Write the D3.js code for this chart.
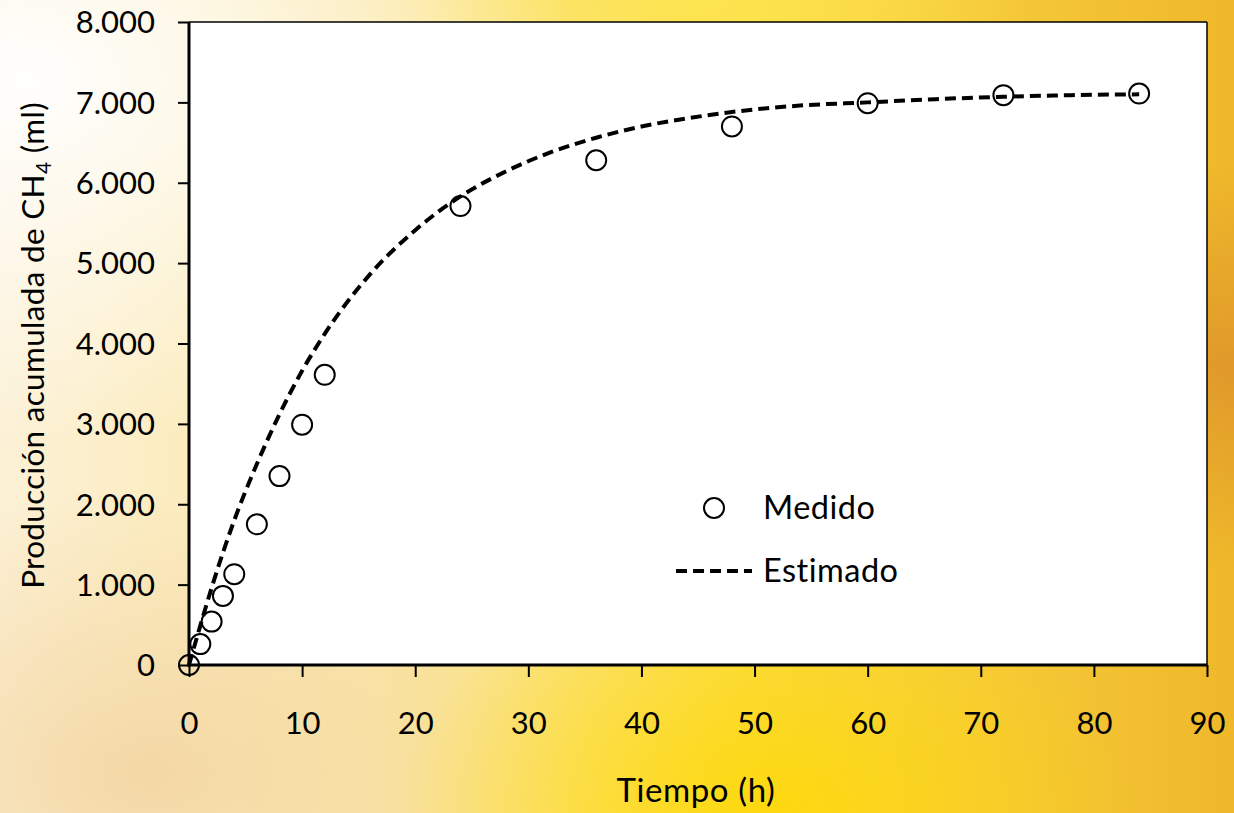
<!DOCTYPE html>
<html>
<head>
<meta charset="utf-8">
<script src="https://cdn.jsdelivr.net/npm/d3@7"></script>
<style>
  html, body { margin: 0; padding: 0; overflow: hidden; }
  svg { display: block; font-family: Lato, "Open Sans", sans-serif; }
</style>
</head>
<body>
<svg id="chart" width="1234" height="813"></svg>
<script>
// ======== DATA ========
const measuredHours = [0, 1, 2, 3, 4, 6, 8, 10, 12, 24, 36, 48, 60, 72, 84];
const measuredMl = [0, 260, 540, 860, 1130, 1750, 2350, 2990, 3610, 5710, 6280, 6700, 6990, 7090, 7110];

const estimatedHours = [0, 1, 2, 4, 6, 8, 10, 12, 16, 20, 24, 28, 32, 36, 40, 44, 48, 54, 60, 66, 72, 78, 84];
const estimatedMl = [0, 490, 960, 1800, 2500, 3120, 3660, 4120, 4860, 5410, 5830, 6140, 6380, 6560, 6700, 6800, 6880, 6960, 7000, 7040, 7070, 7090, 7100];

const xTicks = [0, 10, 20, 30, 40, 50, 60, 70, 80, 90];
const yTicks = [0, 1000, 2000, 3000, 4000, 5000, 6000, 7000, 8000];

const legendLabels = ['Medido', 'Estimado'];

// ======== SETUP ========
const W = 1234, H = 813;
const plot = { left: 189, right: 1207, top: 22, bottom: 665 };

const svg = d3.select('#chart');
const defs = svg.append('defs');

// background: warm yellow/orange wash with a pale glow on the left
const base = defs.append('linearGradient').attr('id', 'bgBase')
    .attr('x1', 0).attr('y1', 0).attr('x2', 1).attr('y2', 0);
base.append('stop').attr('offset', '0%').attr('stop-color', '#fcf1d6');
base.append('stop').attr('offset', '30%').attr('stop-color', '#fbe8a8');
base.append('stop').attr('offset', '60%').attr('stop-color', '#fcdc48');
base.append('stop').attr('offset', '100%').attr('stop-color', '#efb82a');

const glow = defs.append('radialGradient').attr('id', 'bgGlow')
    .attr('cx', 0.02).attr('cy', 0.1).attr('r', 0.45);
glow.append('stop').attr('offset', '0%').attr('stop-color', '#ffffff').attr('stop-opacity', 0.95);
glow.append('stop').attr('offset', '100%').attr('stop-color', '#ffffff').attr('stop-opacity', 0);

const bottomLeft = defs.append('radialGradient').attr('id', 'bgPeach')
    .attr('cx', 0.12).attr('cy', 0.95).attr('r', 0.35);
bottomLeft.append('stop').attr('offset', '0%').attr('stop-color', '#f2d39e').attr('stop-opacity', 0.8);
bottomLeft.append('stop').attr('offset', '100%').attr('stop-color', '#f2d39e').attr('stop-opacity', 0);

const rightOrange = defs.append('radialGradient').attr('id', 'bgOrange')
    .attr('cx', 1.0).attr('cy', 0.45).attr('r', 0.25);
rightOrange.append('stop').attr('offset', '0%').attr('stop-color', '#de952a').attr('stop-opacity', 0.9);
rightOrange.append('stop').attr('offset', '100%').attr('stop-color', '#de952a').attr('stop-opacity', 0);

const bottomYellow = defs.append('radialGradient').attr('id', 'bgYellow')
    .attr('cx', 0.62).attr('cy', 1.0).attr('r', 0.3);
bottomYellow.append('stop').attr('offset', '0%').attr('stop-color', '#fdd800').attr('stop-opacity', 0.8);
bottomYellow.append('stop').attr('offset', '100%').attr('stop-color', '#fdd800').attr('stop-opacity', 0);

const topYellow = defs.append('radialGradient').attr('id', 'bgTop')
    .attr('cx', 0.58).attr('cy', 0.0).attr('r', 0.25);
topYellow.append('stop').attr('offset', '0%').attr('stop-color', '#fde650').attr('stop-opacity', 0.8);
topYellow.append('stop').attr('offset', '100%').attr('stop-color', '#fde650').attr('stop-opacity', 0);

['bgBase', 'bgPeach', 'bgYellow', 'bgTop', 'bgOrange', 'bgGlow'].forEach(id => {
    svg.append('rect').attr('width', W).attr('height', H).attr('fill', `url(#${id})`);
});

// plot area
svg.append('rect')
    .attr('x', plot.left).attr('y', plot.top)
    .attr('width', plot.right - plot.left).attr('height', plot.bottom - plot.top)
    .attr('fill', '#ffffff');

const x = d3.scaleLinear().domain([0, 90]).range([plot.left, plot.right]);
const y = d3.scaleLinear().domain([0, 8000]).range([plot.bottom, plot.top]);

const fmt = d3.formatLocale({ decimal: ',', thousands: '.', grouping: [3], currency: ['', ''] }).format(',');

// ======== AXES ========
const xAxis = svg.append('g')
    .attr('transform', `translate(0,${plot.bottom})`)
    .call(d3.axisBottom(x).tickValues(xTicks).tickSize(12).tickPadding(32).tickSizeOuter(0));
const yAxis = svg.append('g')
    .attr('transform', `translate(${plot.left},0)`)
    .call(d3.axisLeft(y).tickValues(yTicks).tickFormat(fmt).tickSize(11).tickPadding(23).tickSizeOuter(0));

[xAxis, yAxis].forEach(a => {
    a.select('.domain').remove();
    a.selectAll('.tick line').attr('stroke', '#000').attr('stroke-width', 2);
    a.selectAll('.tick text').attr('fill', '#000').attr('font-size', 31).attr('font-family', 'Lato, sans-serif');
});
xAxis.selectAll('.tick text').attr('dy', '0.35em').attr('y', 58);
yAxis.selectAll('.tick text').attr('dy', '0.35em');

// frame: thin top/right, thick left/bottom
svg.append('line').attr('x1', plot.left).attr('x2', plot.right).attr('y1', plot.top).attr('y2', plot.top)
    .attr('stroke', '#000').attr('stroke-width', 1.5);
svg.append('line').attr('x1', plot.right).attr('x2', plot.right).attr('y1', plot.top).attr('y2', plot.bottom)
    .attr('stroke', '#000').attr('stroke-width', 1.5);
svg.append('line').attr('x1', plot.left).attr('x2', plot.left).attr('y1', plot.top).attr('y2', plot.bottom + 1.5)
    .attr('stroke', '#000').attr('stroke-width', 3);
svg.append('line').attr('x1', plot.left - 1.5).attr('x2', plot.right).attr('y1', plot.bottom).attr('y2', plot.bottom)
    .attr('stroke', '#000').attr('stroke-width', 3);

// axis titles
svg.append('text')
    .attr('x', 696).attr('y', 802)
    .attr('text-anchor', 'middle')
    .attr('font-size', 33)
    .attr('letter-spacing', 0.6)
    .text('Tiempo (h)');

const yTitle = svg.append('text')
    .attr('transform', `translate(44,${(plot.top + plot.bottom) / 2 + 2}) rotate(-90)`)
    .attr('text-anchor', 'middle')
    .attr('font-size', 31.5)
    .attr('letter-spacing', 0.3);
yTitle.append('tspan').text('Producción acumulada de CH');
yTitle.append('tspan').attr('font-size', 21).attr('dy', 7).text('4');
yTitle.append('tspan').attr('dy', -7).text(' (ml)');

// ======== SERIES ========
const measured = measuredHours.map((h, i) => ({ h, v: measuredMl[i] }));
const estimated = estimatedHours.map((h, i) => ({ h, v: estimatedMl[i] }));

svg.append('g').selectAll('circle')
    .data(measured)
    .join('circle')
    .attr('cx', d => x(d.h))
    .attr('cy', d => y(d.v))
    .attr('r', 10)
    .attr('fill', 'none')
    .attr('stroke', '#000')
    .attr('stroke-width', 2);

const line = d3.line().x(d => x(d.h)).y(d => y(d.v)).curve(d3.curveMonotoneX);
svg.append('path')
    .datum(estimated)
    .attr('d', line)
    .attr('fill', 'none')
    .attr('stroke', '#000')
    .attr('stroke-width', 4)
    .attr('stroke-dasharray', '11 6');

// ======== LEGEND ========
const legend = svg.append('g');
legend.append('circle').attr('cx', 714).attr('cy', 508).attr('r', 10)
    .attr('fill', 'none').attr('stroke', '#000').attr('stroke-width', 2);
legend.append('line').attr('x1', 676).attr('x2', 752).attr('y1', 571).attr('y2', 571)
    .attr('stroke', '#000').attr('stroke-width', 4).attr('stroke-dasharray', '11 6');
legend.selectAll('text')
    .data(legendLabels)
    .join('text')
    .attr('x', 763)
    .attr('y', (d, i) => 508 + i * 63)
    .attr('dy', '0.35em')
    .attr('font-size', 32.5)
    .attr('letter-spacing', 0.5)
    .text(d => d);
</script>
</body>
</html>
